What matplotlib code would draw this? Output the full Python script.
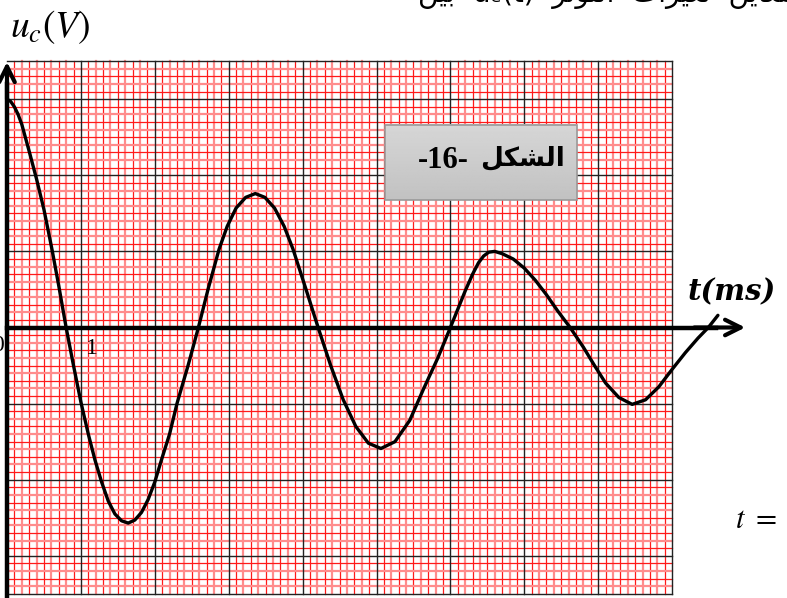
import numpy as np
import matplotlib
matplotlib.use("Agg")
import matplotlib.pyplot as plt
from matplotlib.patches import Rectangle

# ---- data (t in ms, u in grid units) ----
t_pts = [0.00, 0.05, 0.10, 0.15, 0.20, 0.31, 0.40, 0.50, 0.61, 0.70, 0.80,
         0.90, 1.00, 1.10, 1.19, 1.28, 1.37, 1.46, 1.55, 1.64, 1.73, 1.82, 1.91,
         2.00, 2.09, 2.20, 2.30, 2.45, 2.59,
         2.72, 2.87, 2.98, 3.10, 3.23, 3.36, 3.49, 3.62, 3.75, 3.87, 4.04, 4.21,
         4.38, 4.55, 4.72, 4.89, 5.06, 5.25, 5.45, 5.64, 5.83, 6.00,
         6.10, 6.20, 6.30, 6.38, 6.45, 6.52, 6.60, 6.70, 6.85, 7.00, 7.15, 7.30,
         7.45, 7.62, 7.80, 7.95, 8.10, 8.28, 8.46, 8.64, 8.82, 9.00, 9.18, 9.35,
         9.49, 9.62]
u_pts = [3.00, 2.97, 2.90, 2.80, 2.67, 2.28, 1.95, 1.55, 1.02, 0.55, 0.00,
         -0.50, -0.98, -1.40, -1.74, -2.03, -2.28, -2.45, -2.54, -2.57, -2.53, -2.43, -2.26,
         -2.03, -1.74, -1.40, -1.00, -0.50, 0.00,
         0.50, 1.03, 1.33, 1.57, 1.71, 1.76, 1.71, 1.57, 1.33, 1.03, 0.52, 0.00,
         -0.50, -0.95, -1.30, -1.52, -1.59, -1.50, -1.22, -0.80, -0.40, 0.00,
         0.24, 0.48, 0.70, 0.85, 0.94, 0.99, 1.00, 0.97, 0.90, 0.78, 0.62, 0.43,
         0.22, 0.00, -0.26, -0.50, -0.73, -0.92, -1.01, -0.95, -0.78, -0.55, -0.33, -0.14,
         0.00, 0.16]

t_major = [1, 2, 3, 4, 5, 6, 7, 8, 9]
u_major = [-3.5, -3, -2, -1, 1, 2, 3, 3.5]
x_label = "1"
box_label_digits = "-16-"
box_label_word = "\uFEDE\uFEDC\uFEB8\uFEDF\uFE8D"   # الشكل (visual order)

# ---- figure geometry ----
PX_T, PX_U = 73.9, 76.1
X0, Y0 = 7.0, 327.5
W, H = 787, 598

plt.rcParams["mathtext.fontset"] = "stix"
fig = plt.figure(figsize=(W / 100, H / 100), dpi=100)
ax = fig.add_axes([0, 0, 1, 1])
XL = (-X0 / PX_T, (W - X0) / PX_T)
YL = (-(H - Y0) / PX_U, Y0 / PX_U)
ax.axis("off")

T_MAX, U_MIN, U_MAX = 9.0, -3.5, 3.5

# minor grid (graph paper)
for i in range(1, 90):
    if i % 10 == 0:
        continue
    tv = i / 10
    col, lw = ("#ff1a1a", 0.9) if i % 2 else ("#ff8c8c", 1.6)
    ax.plot([tv, tv], [U_MIN, U_MAX], color=col, lw=lw, zorder=1)
for j in range(-34, 35):
    if j % 10 == 0:
        continue
    uv = j / 10
    col, lw = ("#ff1a1a", 0.9) if j % 2 else ("#ff8c8c", 1.6)
    ax.plot([0, T_MAX], [uv, uv], color=col, lw=lw, zorder=1)
# major lines
for tv in t_major:
    ax.plot([tv, tv], [U_MIN, U_MAX], color="#222222", lw=1.0, zorder=2)
for uv in u_major:
    ax.plot([0, T_MAX], [uv, uv], color="#222222", lw=1.0, zorder=2)

# axes with arrows
ax.plot([0, 0], [-3.6, 3.2], color="black", lw=3.2, zorder=5)
ax.annotate("", xy=(0, 3.49), xytext=(0, 3.0),
            arrowprops=dict(arrowstyle="->", lw=3.0, mutation_scale=28, color="black",
                            shrinkA=0, shrinkB=0), zorder=6)
ax.plot([0, 9.6], [0, 0], color="black", lw=3.2, zorder=5)
ax.annotate("", xy=(9.99, 0), xytext=(9.3, 0),
            arrowprops=dict(arrowstyle="->", lw=3.0, mutation_scale=28, color="black",
                            shrinkA=0, shrinkB=0), zorder=6)

# curve
ax.plot(t_pts, u_pts, color="black", lw=2.4, zorder=7,
        solid_capstyle="round", solid_joinstyle="round")

# texts
ax.text(0.59, 3.95, r"$u_c\left(V\right)$", fontsize=27, ha="center", va="center",
        color="black")
ax.text(9.80, 0.47, "t(ms)", fontsize=21, fontweight="bold", fontstyle="italic",
        family="DejaVu Serif", ha="center", va="center")
ax.text(1.15, -0.28, x_label, fontsize=17, family="Liberation Serif",
        ha="center", va="center")
ax.text(-0.04, -0.23, "0", fontsize=17, family="Liberation Serif",
        ha="right", va="center")
ax.text(9.85, -2.52, r"$t\ =$", fontsize=22, ha="left", va="center")

# figure label box
bx0, bx1 = (385 - X0) / PX_T, (577 - X0) / PX_T
by0, by1 = (Y0 - 200) / PX_U, (Y0 - 125) / PX_U
grad = np.linspace(0.84, 0.76, 50).reshape(-1, 1)
ax.imshow(grad, cmap="gray", vmin=0, vmax=1, extent=[bx0, bx1, by0, by1],
          aspect="auto", zorder=8, origin="upper")
ax.add_patch(Rectangle((bx0, by0), bx1 - bx0, by1 - by0, fill=False,
                       edgecolor="#9a9a9a", lw=1.2, zorder=9))
ax.text((443 - X0) / PX_T, (Y0 - 160) / PX_U, box_label_digits, fontsize=22,
        fontweight="bold", family="Liberation Serif", ha="center", va="center", zorder=10)
ax.text((522 - X0) / PX_T, (Y0 - 158) / PX_U, box_label_word, fontsize=19,
        fontweight="bold", family="DejaVu Sans", ha="center", va="center", zorder=10)

# partially visible heading at the top (Arabic, visual order)
top_line = ("\uFEE6\uFEF4\uFE91  u\u2091(t)  "
            "\uFEAE\uFE97\uFEEE\uFE98\uFEDF\uFE8D  "
            "\uFE95\uFE8D\uFEAE\uFEF4\uFED0\uFE97  \uFEE6\uFEF3\uFE8E\uFECC\uFEE3")
ax.text((418 - X0) / PX_T, (Y0 - 2) / PX_U, top_line, fontsize=20,
        family="DejaVu Sans", ha="left", va="baseline")

ax.set_xlim(*XL)
ax.set_ylim(*YL)
fig.savefig("out.png", dpi=100)
